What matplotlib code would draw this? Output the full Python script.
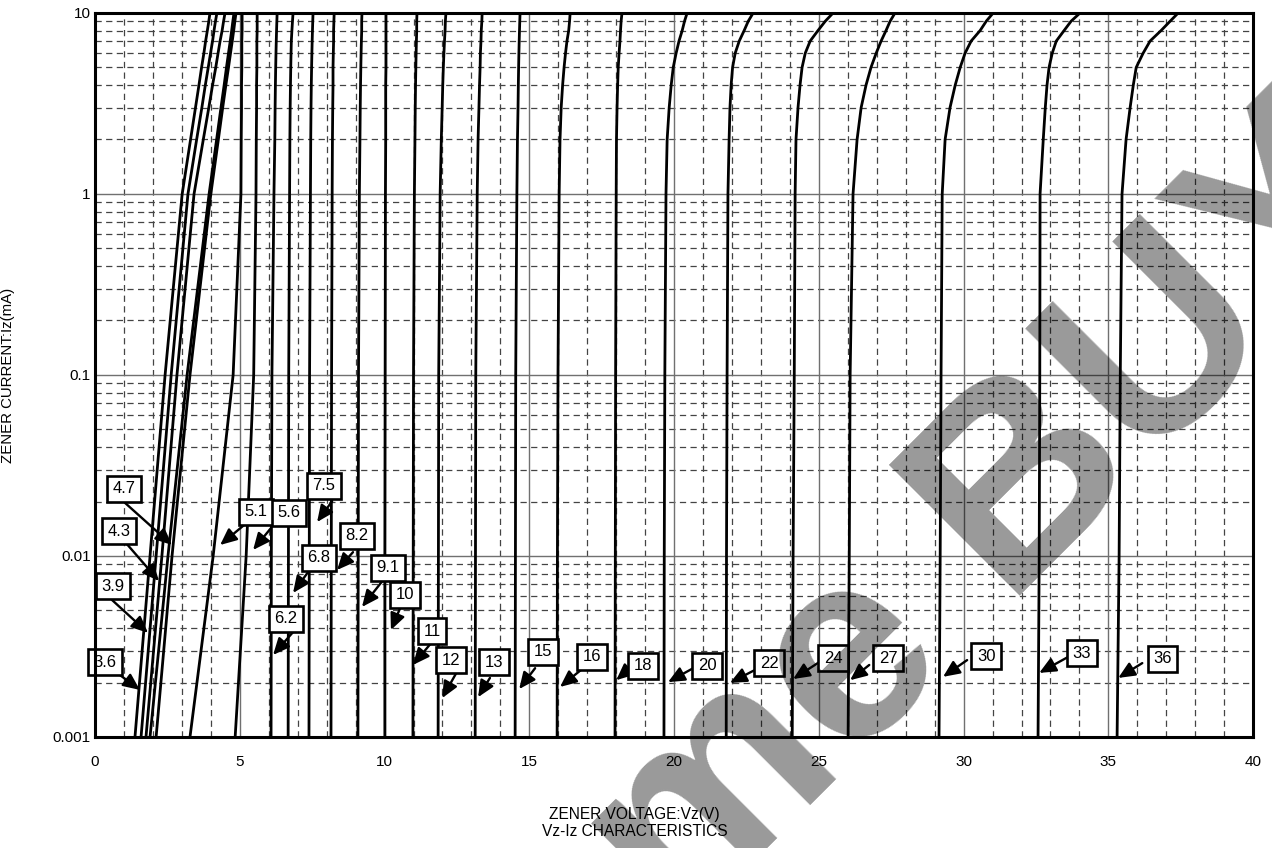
import matplotlib
matplotlib.use("Agg")
import matplotlib.pyplot as plt
from matplotlib.ticker import FixedLocator, NullLocator

plt.rcParams['font.family'] = ['Liberation Sans', 'DejaVu Sans']

I_LEVELS = [0.001, 0.01, 0.1, 1, 2, 3, 4, 5, 6, 7, 8, 9, 10]

ZENER_NAMES = ['3.6', '3.9', '4.3', '4.7', '5.1', '5.6', '6.2', '6.8', '7.5', '8.2',
               '9.1', '10', '11', '12', '13', '15', '16', '18', '20', '22',
               '24', '27', '30', '33', '36']

# zener voltage (V) of every labelled curve at I_LEVELS
VZ_CURVES = [
    [1.38, 1.90, 2.42, 3.01, 3.30, 3.47, 3.59, 3.68, 3.76, 3.82, 3.88, 3.93, 3.97],
    [1.59, 2.11, 2.63, 3.21, 3.51, 3.69, 3.81, 3.91, 3.99, 4.06, 4.11, 4.16, 4.21],
    [1.76, 2.31, 2.83, 3.42, 3.74, 3.93, 4.06, 4.17, 4.25, 4.32, 4.39, 4.44, 4.49],
    [1.90, 2.52, 3.18, 3.94, 4.20, 4.35, 4.46, 4.54, 4.61, 4.67, 4.72, 4.76, 4.80],
    [3.28, 4.08, 4.77, 5.04, 5.05, 5.06, 5.06, 5.07, 5.07, 5.07, 5.08, 5.08, 5.08],
    [4.84, 5.22, 5.48, 5.56, 5.57, 5.58, 5.58, 5.59, 5.59, 5.59, 5.60, 5.60, 5.60],
    [6.08, 6.09, 6.11, 6.18, 6.21, 6.22, 6.23, 6.24, 6.25, 6.26, 6.27, 6.28, 6.29],
    [6.67, 6.68, 6.69, 6.72, 6.73, 6.74, 6.75, 6.76, 6.77, 6.78, 6.80, 6.82, 6.84],
    [7.39, 7.40, 7.41, 7.44, 7.45, 7.46, 7.47, 7.48, 7.49, 7.50, 7.51, 7.52, 7.53],
    [8.15, 8.16, 8.17, 8.19, 8.20, 8.21, 8.22, 8.22, 8.23, 8.24, 8.24, 8.25, 8.26],
    [9.08, 9.09, 9.10, 9.13, 9.15, 9.16, 9.17, 9.18, 9.19, 9.20, 9.21, 9.21, 9.22],
    [10.01, 10.01, 10.02, 10.03, 10.04, 10.04, 10.04, 10.05, 10.05, 10.05, 10.05, 10.05, 10.05],
    [10.98, 10.99, 11.00, 11.03, 11.05, 11.06, 11.07, 11.08, 11.09, 11.10, 11.11, 11.11, 11.12],
    [11.85, 11.86, 11.87, 11.92, 11.96, 11.99, 12.01, 12.03, 12.05, 12.07, 12.09, 12.10, 12.12],
    [13.13, 13.14, 13.15, 13.20, 13.23, 13.26, 13.28, 13.30, 13.31, 13.33, 13.34, 13.36, 13.37],
    [14.51, 14.52, 14.53, 14.57, 14.59, 14.61, 14.62, 14.63, 14.64, 14.65, 14.66, 14.67, 14.68],
    [15.96, 15.97, 15.99, 16.03, 16.06, 16.10, 16.15, 16.20, 16.25, 16.30, 16.36, 16.39, 16.41],
    [17.96, 17.97, 17.98, 18.00, 18.01, 18.03, 18.05, 18.07, 18.10, 18.13, 18.15, 18.17, 18.20],
    [19.65, 19.66, 19.68, 19.72, 19.76, 19.83, 19.90, 19.97, 20.07, 20.17, 20.28, 20.36, 20.45],
    [21.80, 21.81, 21.83, 21.86, 21.90, 21.93, 21.97, 22.02, 22.11, 22.25, 22.42, 22.56, 22.73],
    [24.08, 24.11, 24.15, 24.18, 24.21, 24.28, 24.35, 24.42, 24.53, 24.70, 24.97, 25.22, 25.49],
    [26.01, 26.05, 26.08, 26.18, 26.32, 26.46, 26.63, 26.80, 26.98, 27.15, 27.32, 27.46, 27.63],
    [29.15, 29.19, 29.22, 29.26, 29.36, 29.53, 29.71, 29.88, 30.05, 30.26, 30.57, 30.78, 31.02],
    [32.57, 32.61, 32.63, 32.64, 32.75, 32.82, 32.88, 32.95, 33.06, 33.20, 33.47, 33.71, 34.02],
    [35.30, 35.37, 35.41, 35.47, 35.61, 35.75, 35.86, 35.96, 36.20, 36.44, 36.82, 37.13, 37.41],
]
# fifth line in the low-voltage bundle, drawn without a label in the original
VZ_UNLABELLED = [2.11, 2.66, 3.28, 4.00, 4.26, 4.41, 4.52, 4.61, 4.68, 4.74, 4.79, 4.83, 4.87]

# label layout (V, mA): box centre, arrow start, arrow tip
LABEL_BOX = [(0.35, 0.00259), (0.62, 0.00682), (0.83, 0.01374), (1.00, 0.02345),
             (5.56, 0.0175), (6.70, 0.0173), (6.60, 0.00449), (7.74, 0.00975),
             (7.91, 0.0244), (9.05, 0.0129), (10.12, 0.00859), (10.71, 0.00609),
             (11.64, 0.00385), (12.30, 0.00266), (13.78, 0.00259), (15.47, 0.00295),
             (17.17, 0.00277), (18.93, 0.00247), (21.14, 0.00247), (23.28, 0.00256),
             (25.49, 0.00273), (27.39, 0.00273), (30.78, 0.0028), (34.09, 0.00291),
             (36.86, 0.0027)]
ARROW_TAIL = [(0.86, 0.0022), (0.59, 0.00571), (1.04, 0.01194), (1.04, 0.01963),
              (5.15, 0.01483), (6.08, 0.01429), (6.84, 0.0038), (7.36, 0.00816),
              (8.19, 0.0201), (8.91, 0.0105), (9.95, 0.00736), (10.54, 0.00516),
              (11.64, 0.00335), (12.50, 0.00229), (13.64, 0.00212), (15.20, 0.0024),
              (16.86, 0.0024), (18.48, 0.0024), (20.66, 0.0024), (22.80, 0.00235),
              (25.01, 0.00259), (26.74, 0.0025), (30.12, 0.00266), (33.61, 0.00277),
              (36.17, 0.00256)]
ARROW_TIP = [(1.55, 0.00182), (1.83, 0.00376), (2.21, 0.00727), (2.66, 0.0115),
             (4.32, 0.0115), (5.46, 0.0108), (6.15, 0.00284), (6.84, 0.00625),
             (7.67, 0.0154), (8.36, 0.00837), (9.22, 0.00523), (10.22, 0.0039),
             (10.98, 0.0025), (11.99, 0.00164), (13.23, 0.00166), (14.65, 0.00184),
             (16.06, 0.00189), (18.00, 0.00206), (19.79, 0.00201), (21.93, 0.00199),
             (24.11, 0.00209), (26.08, 0.00206), (29.29, 0.00215), (32.61, 0.00226),
             (35.34, 0.00212)]

X_TICKS = [0, 5, 10, 15, 20, 25, 30, 35, 40]
Y_TICKS = [0.001, 0.01, 0.1, 1, 10]
Y_TICK_LABELS = ['0.001', '0.01', '0.1', '1', '10']

fig = plt.figure(figsize=(12.72, 8.48), dpi=100)
ax = fig.add_axes([0.0747, 0.1309, 0.9105, 0.8538])

ax.set_yscale('log')
ax.set_xlim(0, 40)
ax.set_ylim(0.001, 10)

# grid: solid at 5 V / decades, dashed at 1 V / 2..9
minor_x = [v for v in range(1, 40) if v % 5]
minor_y = [m * 10.0 ** e for e in range(-3, 1) for m in range(2, 10)]
for v in minor_x:
    ax.axvline(v, color='#444444', lw=0.9, ls=(0, (5, 3.5)), zorder=1)
for c in minor_y:
    ax.axhline(c, color='#444444', lw=0.9, ls=(0, (5, 3.5)), zorder=1)
for v in X_TICKS[1:-1]:
    ax.axvline(v, color='#707070', lw=1.0, zorder=1)
for c in Y_TICKS[1:-1]:
    ax.axhline(c, color='#707070', lw=1.0, zorder=1)

for vz in VZ_CURVES + [VZ_UNLABELLED]:
    ax.plot(vz, I_LEVELS, color='black', lw=2.0, solid_joinstyle='round', zorder=3)

for name, box, tail, tip in zip(ZENER_NAMES, LABEL_BOX, ARROW_TAIL, ARROW_TIP):
    ax.annotate('', xy=tip, xytext=tail,
                arrowprops=dict(arrowstyle='-|>,head_length=1.0,head_width=0.45',
                                color='black', lw=1.7, shrinkA=0, shrinkB=0),
                zorder=4)
    ax.text(box[0], box[1], name, ha='center', va='center', fontsize=12,
            bbox=dict(boxstyle='square,pad=0.33', fc='white', ec='black', lw=1.9),
            zorder=5)

ax.xaxis.set_major_locator(FixedLocator(X_TICKS))
ax.yaxis.set_major_locator(FixedLocator(Y_TICKS))
ax.yaxis.set_minor_locator(NullLocator())
ax.set_yticklabels(Y_TICK_LABELS)
ax.tick_params(axis='both', which='both', length=0, labelsize=11)
ax.tick_params(axis='x', pad=13)
ax.tick_params(axis='y', pad=3)
for s in ax.spines.values():
    s.set_linewidth(2.2)
    s.set_zorder(6)

fig.text(0.4988, 1 - 815 / 848, 'ZENER VOLTAGE:Vz(V)', ha='center', va='center', fontsize=11.2)
fig.text(0.4988, 1 - 832 / 848, 'Vz-Iz CHARACTERISTICS', ha='center', va='center', fontsize=11.2)
fig.text(8 / 1272, 1 - 375 / 848, 'ZENER CURRENT:Iz(mA)', ha='center', va='center',
         rotation=90, fontsize=10.8)

# diagonal watermark laid over the whole chart
fig.text(563 / 1272, 1 - 1053 / 848, 'ome BUY', rotation=45, rotation_mode='anchor',
         ha='left', va='baseline', fontsize=194, fontweight='bold',
         color='black', alpha=0.4, zorder=10)

fig.savefig('out.png', dpi=100)
